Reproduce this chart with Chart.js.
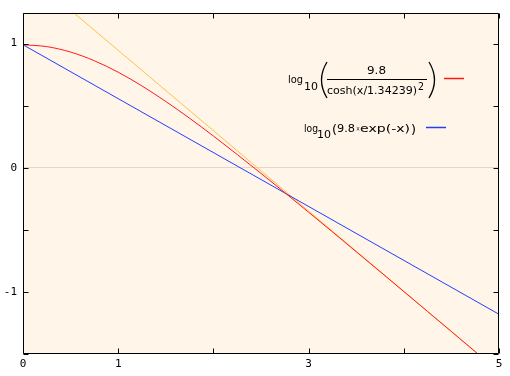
<!DOCTYPE html>
<html><head><meta charset="utf-8">
<script src="https://cdn.jsdelivr.net/npm/chart.js@4"></script>
<style>html,body{margin:0;padding:0;background:#fff;}canvas{display:block;}</style>
</head><body>
<canvas id="c" width="510" height="376"></canvas>
<script>
// x samples and read values
const xSamples = [0,0.25,0.5,0.75,1,1.25,1.5,1.75,2,2.25,2.5,2.75,3,3.25,3.5,3.75,4,4.25,4.5,4.75,5];
const redValues = [0.991,0.976,0.932,0.862,0.770,0.659,0.534,0.399,0.256,0.107,-0.045,-0.200,-0.358,-0.516,-0.676,-0.836,-0.997,-1.158,-1.319,-1.481,-1.642];
const blueX = [0,5];
const blueValues = [0.991,-1.180];
const orangeX = [0,5];
const orangeValues = [1.593,-1.642];
const xTickLabels = {0:'0',1:'1',3:'3',5:'5'};
const yTickLabels = {'-1':'-1','0':'0','1':'1'};

const RED = '#ff1a1a', BLUE = '#2040ff', ORANGE = '#ffc04a';
const toPts = (xs, ys) => xs.map((x,i)=>({x:x, y:ys[i]}));

function fit(ctx, text, x, y, w, size){
  ctx.save();
  ctx.font = size + 'px "DejaVu Sans"';
  const m = ctx.measureText(text).width;
  ctx.translate(x, y);
  ctx.scale(w/m, 1);
  ctx.textAlign = 'left';
  ctx.textBaseline = 'alphabetic';
  ctx.fillText(text, 0, 0);
  ctx.restore();
}

const framePlugin = {
  id:'frame',
  beforeDraw(chart){
    const {ctx, chartArea:a} = chart;
    ctx.save();
    ctx.fillStyle = '#fff5e8';
    ctx.fillRect(a.left, a.top, a.right-a.left, a.bottom-a.top);
    ctx.restore();
  },
  afterDraw(chart){
    const {ctx, chartArea:a, scales} = chart;
    ctx.save();
    ctx.strokeStyle = '#000';
    ctx.lineWidth = 1;
    const L = Math.round(a.left)+0.5, R = Math.round(a.right)-0.5, T = Math.round(a.top)+0.5, B = Math.round(a.bottom)-0.5;
    ctx.beginPath();
    ctx.rect(L, T, R-L, B-T);
    ctx.stroke();
    const tl = 5;
    ctx.beginPath();
    scales.x.ticks.forEach(t=>{
      if (!Number.isInteger(t.value)) return;
      const px = Math.round(scales.x.getPixelForValue(t.value))+0.5;
      ctx.moveTo(px, B); ctx.lineTo(px, B-tl);
      ctx.moveTo(px, T); ctx.lineTo(px, T+tl);
    });
    scales.y.ticks.forEach(t=>{
      if (Math.abs(t.value*2 - Math.round(t.value*2))>1e-9) return;
      const py = Math.round(scales.y.getPixelForValue(t.value))+0.5;
      ctx.moveTo(L, py); ctx.lineTo(L+tl, py);
      ctx.moveTo(R, py); ctx.lineTo(R-tl, py);
    });
    ctx.stroke();

    // legend entry 1
    ctx.fillStyle = '#000';
    fit(ctx, 'log', 288, 83, 15, 11);
    fit(ctx, '10', 304, 90, 14, 10);
    ctx.lineWidth = 1.3;
    ctx.beginPath();
    ctx.moveTo(327, 62); ctx.quadraticCurveTo(316, 80, 327, 98);
    ctx.moveTo(429, 62); ctx.quadraticCurveTo(440, 80, 429, 98);
    ctx.stroke();
    ctx.lineWidth = 1;
    fit(ctx, '9.8', 367, 74, 19, 10);
    ctx.beginPath(); ctx.moveTo(327, 79.5); ctx.lineTo(427, 79.5); ctx.stroke();
    fit(ctx, 'cosh(x/1.34239)', 327, 94, 90, 10);
    fit(ctx, '2', 418, 90, 6, 10);
    ctx.strokeStyle = RED;
    ctx.lineWidth = 1.5;
    ctx.beginPath(); ctx.moveTo(444, 78.5); ctx.lineTo(464, 78.5); ctx.stroke();

    // legend entry 2
    ctx.strokeStyle = '#000';
    fit(ctx, 'log', 304, 132, 14, 11);
    fit(ctx, '10', 317, 138, 14, 10);
    fit(ctx, '(', 332, 134, 5, 12);
    fit(ctx, '9.8', 337, 132, 18, 10);
    fit(ctx, '\u00d7', 356, 131, 4, 7);
    fit(ctx, 'exp(-x)', 360, 132, 50, 10);
    fit(ctx, ')', 411, 134, 5, 12);
    ctx.strokeStyle = BLUE;
    ctx.lineWidth = 1.5;
    ctx.beginPath(); ctx.moveTo(426, 127.5); ctx.lineTo(446, 127.5); ctx.stroke();
    ctx.restore();
  }
};

new Chart(document.getElementById('c'), {
  type:'line',
  data:{
    datasets:[
      {data: toPts(xSamples, redValues), borderColor:RED, borderWidth:1, pointRadius:0, cubicInterpolationMode:'monotone'},
      {data: toPts(blueX, blueValues), borderColor:BLUE, borderWidth:1, pointRadius:0, tension:0},
      {data: toPts(orangeX, orangeValues), borderColor:ORANGE, borderWidth:1, pointRadius:0, tension:0}
    ]
  },
  options:{
    responsive:false, animation:false, devicePixelRatio:1,
    layout:{padding:{top:10, right:11, left:0, bottom:0}},
    plugins:{legend:{display:false}, tooltip:{enabled:false}},
    scales:{
      x:{type:'linear', min:0, max:5,
        border:{display:false},
        grid:{display:false, drawTicks:false},
        ticks:{stepSize:1, autoSkip:false, maxRotation:0, padding:4, color:'#000',
          font:{family:'"DejaVu Sans Mono"', size:11},
          callback:(v)=> xTickLabels[v] !== undefined ? xTickLabels[v] : ''},
        afterFit:(s)=>{s.height = 22;}
      },
      y:{type:'linear', min:-1.5, max:1.25,
        border:{display:false},
        grid:{drawTicks:false, lineWidth:1, color:(c)=> (c.tick && c.tick.value===0) ? '#e6d8c4' : 'rgba(0,0,0,0)'},
        ticks:{stepSize:0.5, autoSkip:false, padding:6, color:'#000',
          font:{family:'"DejaVu Sans Mono"', size:11},
          callback:(v)=> yTickLabels[String(v)] !== undefined ? yTickLabels[String(v)] : ''},
        afterFit:(s)=>{s.width = 23;}
      }
    }
  },
  plugins:[framePlugin]
});
</script>
</body></html>
